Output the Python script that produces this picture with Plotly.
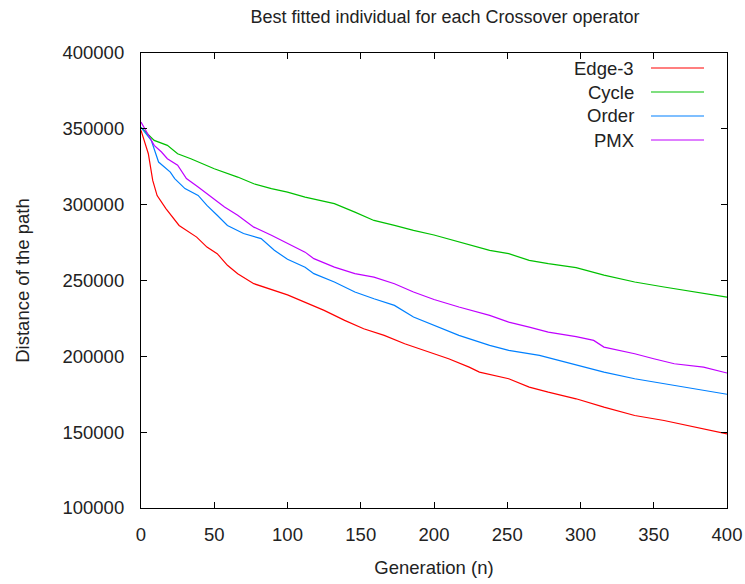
import plotly.graph_objects as go

# ---- data ----
edge3_x = [0, 5, 8, 11, 17, 26, 38, 45, 52, 59, 66, 77, 100, 112, 125, 139, 152, 166, 180, 200, 210, 224, 231, 251, 265, 278, 297, 316, 337, 357, 378, 393, 400]
edge3_y = [349000, 333600, 316000, 306000, 297400, 286300, 278600, 272000, 267700, 260000, 254500, 247900, 240500, 235800, 230300, 223700, 218200, 213800, 208300, 201700, 198400, 192900, 189600, 185200, 179700, 176400, 172000, 166500, 161000, 157700, 153300, 150600, 148900]

cycle_x = [0, 9, 18, 25, 34, 50, 66, 77, 89, 100, 112, 132, 146, 159, 173, 186, 200, 217, 238, 251, 265, 278, 297, 316, 337, 357, 378, 400]
cycle_y = [351000, 342400, 339100, 333600, 330300, 323700, 318200, 313800, 310600, 308300, 305000, 300700, 295100, 289600, 286300, 283000, 280000, 275300, 269900, 267700, 263300, 261100, 258500, 253500, 249000, 245700, 242400, 239000]

order_x = [0, 7, 12, 20, 23, 30, 39, 45, 52, 59, 70, 82, 91, 100, 112, 118, 132, 146, 159, 173, 186, 200, 217, 238, 251, 272, 285, 297, 316, 337, 357, 378, 400]
order_y = [351000, 342400, 328100, 321500, 317200, 310600, 306100, 299500, 293000, 286300, 281000, 277600, 269900, 264000, 258800, 254500, 249000, 242400, 238000, 233600, 225900, 220400, 213800, 207200, 203900, 200600, 197300, 194000, 189600, 185200, 181900, 178600, 175000]

pmx_x = [0, 9, 14, 18, 25, 31, 39, 48, 57, 66, 77, 89, 100, 112, 118, 132, 146, 159, 173, 186, 200, 217, 238, 251, 265, 278, 297, 309, 316, 337, 350, 364, 384, 400]
pmx_y = [354500, 339100, 334700, 330300, 326000, 317200, 311600, 305000, 298400, 293000, 285200, 279800, 274300, 268700, 264400, 258800, 254500, 252200, 247900, 242400, 237500, 232500, 227000, 222600, 219300, 216000, 213000, 210500, 206100, 201700, 198400, 195100, 192900, 189000]

series_names = ["Edge-3", "Cycle", "Order", "PMX"]
series_colors = ["#ff0000", "#00c000", "#0080ff", "#c000ff"]
series_x = [edge3_x, cycle_x, order_x, pmx_x]
series_y = [edge3_y, cycle_y, order_y, pmx_y]

x_ticks = [0, 50, 100, 150, 200, 250, 300, 350, 400]
y_ticks = [100000, 150000, 200000, 250000, 300000, 350000, 400000]

FONT = "Liberation Sans, Arial, sans-serif"
FS = 18.5
TXT = "#222222"

fig = go.Figure()
for name, color, xs, ys in zip(series_names, series_colors, series_x, series_y):
    fig.add_trace(go.Scatter(x=xs, y=ys, mode="lines", name=name,
                             line=dict(color=color, width=1.2), showlegend=False))

# custom gnuplot-style legend: text right-aligned, sample line on the right
L, R, T, B = 141, 727, 53, 508
def px_x(p): return (p - L) / (R - L)
def px_y(p): return (B - p) / (B - T)
for i, (name, color) in enumerate(zip(series_names, series_colors)):
    yy = 68 + 24 * i
    fig.add_annotation(x=px_x(636), y=px_y(yy), xref="paper", yref="paper",
                       text=name, showarrow=False, xanchor="right", yanchor="middle",
                       font=dict(family=FONT, size=FS, color=TXT))
    fig.add_shape(type="line", xref="paper", yref="paper",
                  x0=px_x(651), x1=px_x(704), y0=px_y(yy), y1=px_y(yy),
                  line=dict(color=color, width=1.2))

axis_common = dict(showline=True, linecolor="black", linewidth=1.2, mirror="allticks",
                   ticks="inside", ticklen=6, tickwidth=1, tickcolor="black",
                   showgrid=False, zeroline=False, automargin=False,
                   tickfont=dict(family=FONT, size=FS, color=TXT))

fig.update_xaxes(range=[0, 400], tickvals=x_ticks, ticktext=[str(v) for v in x_ticks],
                 title=dict(text="Generation (n)", font=dict(family=FONT, size=FS, color=TXT), standoff=16),
                 ticklabelstandoff=10, **axis_common)
fig.update_yaxes(range=[100000, 400000], tickvals=y_ticks, ticktext=[str(v) for v in y_ticks],
                 title=dict(text="Distance of the path", font=dict(family=FONT, size=FS, color=TXT), standoff=27),
                 ticklabelstandoff=12, **axis_common)

fig.update_layout(
    width=745, height=584,
    margin=dict(l=L, r=745 - R, t=T, b=584 - B, autoexpand=False),
    paper_bgcolor="white", plot_bgcolor="white",
    title=dict(text="Best fitted individual for each Crossover operator",
               x=445 / 745, xanchor="center", y=1 - 17 / 584, yanchor="middle",
               font=dict(family=FONT, size=18, color=TXT)),
    showlegend=False,
)

fig.write_html("out.html")
